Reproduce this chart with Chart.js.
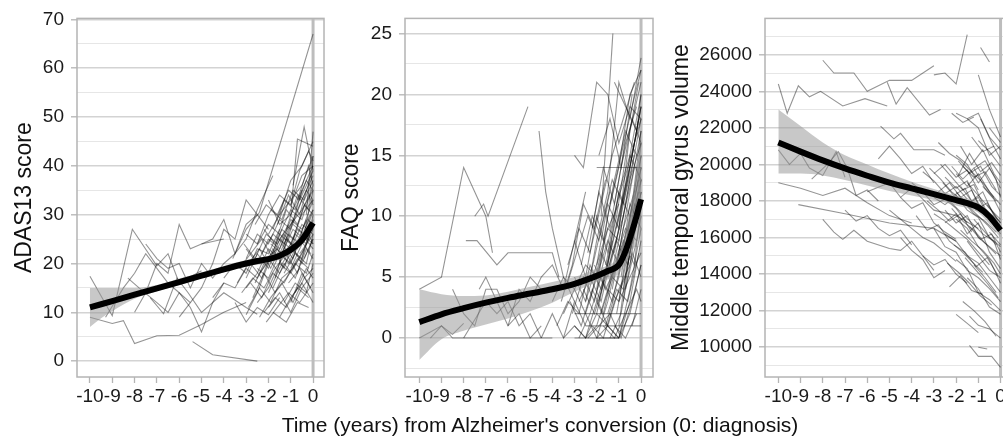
<!DOCTYPE html>
<html><head><meta charset="utf-8">
<script src="https://cdn.jsdelivr.net/npm/chart.js@4.4.1/dist/chart.umd.min.js"></script>
<style>
html,body{margin:0;padding:0;background:#fff;overflow:hidden;width:1003px;height:438px;position:relative;}
canvas{position:absolute;top:0;}
#xtitle{position:absolute;left:240px;width:600px;top:413px;text-align:center;font-family:'Liberation Sans',Arial,sans-serif;font-size:21px;line-height:24px;color:#111;white-space:nowrap;}
</style></head><body>
<canvas id="c1" width="330" height="420" style="left:0px"></canvas>
<canvas id="c2" width="330" height="420" style="left:330px"></canvas>
<canvas id="c3" width="360" height="420" style="left:660px"></canvas>
<div id="xtitle">Time (years) from Alzheimer's conversion (0: diagnosis)</div>
<script>
// ---------- shared ----------
const timeTicks = [-10,-9,-8,-7,-6,-5,-4,-3,-2,-1,0];

// ---------- ADAS13 ----------
const adasMajorTicks = [0,10,20,30,40,50,60,70];
const adasMinorTicks = [5,15,25,35,45,55,65];
const adasMeanT = [-10,-9,-8,-7,-6,-5,-4,-3,-2.5,-2,-1.5,-1,-0.5,0];
const adasMeanY = [11.0,12.3,13.6,14.9,16.2,17.5,18.8,20.0,20.5,20.9,21.6,22.8,24.8,28.3];
const adasBandT = [-10,-9.5,-9,-8.5,-8,-7,-6,-5,-4,-3,-2,-1,0];
const adasBandLow = [7.0,8.8,10.2,11.6,12.8,14.3,15.6,16.9,18.2,19.4,20.2,21.9,27.3];
const adasBandHigh = [15.0,15.0,15.0,15.0,15.0,15.6,16.9,18.2,19.5,20.7,21.6,23.6,29.3];
const adasSubjects = [
 [[-10,17.4],[-9,9.3],[-8.1,27],[-7,19.5],[-6.5,22],[-6,16],[-5,18.5]],
 [[-10,9],[-9,7.7],[-8.5,8.3],[-8,3.6],[-7,5.2],[-6,5.3],[-5,7.5],[-4,10],[-3,12]],
 [[-5.4,4],[-4.5,1.3],[-2.5,0]],
 [[-9.3,9],[-8.5,15],[-8,18],[-7.5,22],[-7,19],[-6.5,16],[-6,14],[-5.5,12]],
 [[-8,10],[-7.5,14],[-7,20],[-6.5,18],[-6,28],[-5.5,23],[-5,24],[-4.5,24.5],[-4,25]],
 [[-8.3,17],[-7.8,15],[-7,12],[-6.5,10],[-6,14],[-5.5,11],[-5,6],[-4.5,12],[-4,16]],
 [[-7.5,24],[-7,21],[-6.5,19],[-6,20],[-5.5,15],[-5,20],[-4.5,17],[-4,20],[-3.5,22]],
 [[-7.3,13],[-6.7,9.7],[-6.1,17],[-5.6,14],[-5,10],[-4,14],[-3,11],[-2.5,9.6]],
 [[-6,9],[-5.5,12],[-5,15],[-4.5,20],[-4,27],[-3.5,25],[-3,33],[-2.5,30],[-2,27]],
 [[-5,24],[-4.5,25],[-4,29],[-3.5,22],[-3,28],[-2.5,30]],
 [[-3.6,21],[-3,27],[-2.4,30.5],[0,67]],
 [[-3.5,22],[-3,25],[-2.5,31],[-1.8,38]],
 [[-3,9.5],[-2.5,14],[-2,20],[-1.5,26],[-1,24],[-0.5,30],[0,33]],
 [[-3,17],[-2.5,22],[-2,19],[-1.5,25],[-1,28],[-0.5,31],[0,35]],
 [[-2.5,12],[-2,15],[-1.5,20],[-1,18],[-0.5,22],[0,27]],
 [[-2,26],[-1.5,30],[-1,33],[-0.5,36],[0,42]],
 [[-1.5,20],[-1,27],[-0.5,35],[0,40]],
 [[-1,30],[-0.7,45.5],[0,44]],
 [[-0.9,36],[-0.4,48],[0,39]],
 [[-0.3,30],[0,47]],
 [[-3,15],[-2.5,18],[-2,23],[-1.5,21],[-1,24],[-0.5,20],[0,25]],
 [[-2.8,20],[-2.3,17],[-1.8,23],[-1.3,19],[-0.8,26],[-0.3,24],[0,29]],
 [[-2,11],[-1.5,14],[-1,10],[-0.5,15],[0,18]],
 [[-1.5,9],[-1,13],[-0.5,16],[0,12]],
 [[-2.2,27],[-1.7,24],[-1.2,31],[-0.7,28],[-0.2,34],[0,32]],
 [[-1.8,15],[-1.3,20],[-0.8,17],[-0.3,23],[0,21]],
 [[-2.5,24],[-2,28],[-1.5,26],[-1,31],[-0.5,29],[0,36]],
 [[-1.2,22],[-0.7,27],[-0.2,25],[0,30]],
 [[-3.2,14],[-2.7,17],[-2.2,15],[-1.7,19],[-1.2,22],[-0.7,18],[-0.2,26],[0,24]],
 [[-1,19],[-0.5,24],[0,28]],
 [[-2,21],[-1.5,18],[-1,22],[-0.5,26],[0,23]],
 [[-0.8,14],[-0.3,19],[0,17]],
 [[-2.7,13],[-2.2,18],[-1.7,14],[-1.2,17],[-0.7,21],[-0.2,19]],
 [[-1.6,28],[-1.1,34],[-0.6,30],[-0.1,38]],
 [[-2.4,18],[-1.9,21],[-1.4,27],[-0.9,25],[-0.4,32],[0,30]],
 [[-3,26],[-2.5,24],[-2,30],[-1.5,34],[-1,32],[-0.5,38],[0,40]],
 [[-1.3,12],[-0.8,16],[-0.3,14],[0,20]],
 [[-2.1,8],[-1.6,11],[-1.1,14],[-0.6,12],[0,16]],
 [[-0.6,22],[0,26]],
 [[-1.9,31],[-1.4,29],[-0.9,35],[-0.4,33],[0,37]],
 [[-2.6,16],[-2.1,21],[-1.6,23],[-1.1,20],[-0.6,25],[-0.1,22]],
 [[-1.4,24],[-0.9,21],[-0.4,28],[0,33]],
 [[-3.3,19],[-2.8,22],[-2.3,25],[-1.8,21],[-1.3,26],[-0.8,23],[-0.3,29]],
 [[-0.5,27],[0,31]],
 [[-1.1,16],[-0.6,19],[-0.1,15]],
 [[-3.5,12],[-3,8],[-2.5,11],[-2,9.5],[-1.5,13]],
 [[-1.8,10],[-1.2,8],[-0.7,12],[-0.2,11]],
 [[-2.3,22],[-1.8,26],[-1.3,24],[-0.8,30],[-0.3,35],[0,33]],
 [[-1.7,17],[-1.2,25],[-0.7,23],[-0.2,29],[0,27]],
 [[-0.9,28],[-0.4,26],[0,35]],
 [[-3,21],[-2.5,26],[-2,24],[-1.5,29],[-1,27],[-0.5,33],[0,38]],
 [[-2.5,19],[-2,17],[-1.5,22],[-1,20],[-0.5,26],[0,24]],
 [[-2,14],[-1.5,19],[-1,23],[-0.5,21],[0,28]],
 [[-1.5,30],[-1,37],[-0.5,40],[0,45]],
 [[-1,32],[-0.6,39],[-0.2,43],[0,41]],
 [[-3,23],[-2.5,20],[-2,25],[-1.5,23],[-1,29],[-0.5,27]],
 [[-2.8,16],[-2.3,13],[-1.8,18],[-1.3,16],[-0.8,20],[-0.3,18],[0,22]],
 [[-2.2,10],[-1.7,13],[-1.2,11],[-0.7,15],[-0.2,13]],
 [[-1.6,21],[-1.1,26],[-0.6,24],[-0.1,30]],
 [[-2.6,28],[-2.1,32],[-1.6,30],[-1.1,35],[-0.6,33],[0,39]],
 [[-1.9,24],[-1.4,22],[-0.9,27],[-0.4,25],[0,31]],
 [[-3.4,16],[-2.9,20],[-2.4,23],[-1.9,19],[-1.4,24],[-0.9,29]],
 [[-1.3,18],[-0.8,22],[-0.3,20],[0,26]],
 [[-2.4,9],[-1.9,13],[-1.4,16],[-0.9,12],[-0.4,17],[0,19]],
 [[-0.7,33],[-0.2,40],[0,36]],
 [[-1.8,27],[-1.3,33],[-0.8,31],[-0.3,37],[0,35]],
 [[-3.1,24],[-2.6,21],[-2.1,26],[-1.6,24],[-1.1,28]],
 [[-2.9,11],[-2.4,15],[-1.9,12],[-1.4,17],[-0.9,19],[-0.4,23]],
 [[-1.5,25],[-1,23],[-0.5,28],[0,26]],
 [[-2,33],[-1.5,28],[-1,30],[-0.5,35]],
 [[-4,17],[-3.5,20],[-3,18],[-2.5,23],[-2,22],[-1.5,27]],
 [[-4.5,13],[-4,16],[-3.5,15],[-3,19],[-2.5,17],[-2,21]],
 [[-1.2,27],[-0.7,34],[-0.2,31],[0,42]],
 [[-0.4,21],[0,25]],
 [[-1,12],[-0.5,18],[0,14]]
];

// ---------- FAQ ----------
const faqMajorTicks = [0,5,10,15,20,25];
const faqMinorTicks = [-2.5,2.5,7.5,12.5,17.5,22.5];
const faqMeanT = [-10,-9,-8,-7,-6,-5,-4,-3,-2,-1.5,-1,-0.75,-0.5,-0.25,0];
const faqMeanY = [1.3,1.95,2.45,2.9,3.3,3.65,4.0,4.45,5.1,5.5,6.0,6.9,8.2,9.7,11.4];
const faqBandT = [-10,-9,-8,-7,-6,-5,-4,-3,-2,-1,-0.5,0];
const faqBandLow = [-1.8,-0.1,0.6,1.1,1.6,2.2,2.9,3.8,4.6,5.3,6.8,8.5];
const faqBandHigh = [4.0,3.6,3.45,3.5,3.8,4.2,4.6,5.0,5.7,6.8,10.5,16.0];
const faqSubjects = [
 [[-10,4],[-9,5],[-8,14],[-7,10],[-6.7,7]],
 [[-7.5,10],[-7.1,11],[-6.9,10],[-5.1,19]],
 [[-7.9,8],[-7.4,8],[-6.5,6],[-6,7],[-4,7],[-3.7,5]],
 [[-4.6,17],[-4.3,12],[-4,9],[-3.5,5],[-3,3]],
 [[-9.5,0],[-9,1],[-8.5,0],[-8,0],[-7,0],[-6,0],[-5,0],[-4,0]],
 [[-10,0],[-9.5,0.5],[-9,1],[-8.5,0.3],[-8,1.2]],
 [[-8.5,4],[-8,2],[-7.5,1],[-7,4],[-6.5,4],[-6,2],[-5.5,3],[-5,5],[-4.5,4]],
 [[-7.3,4],[-7,5],[-6.5,3],[-6,1],[-5.5,2],[-5,0],[-4.5,1]],
 [[-8,0],[-7.5,1.5],[-7,3],[-6.5,2],[-6,3],[-5.5,1],[-5,2],[-4.5,0]],
 [[-6,1],[-5.5,4],[-5,3],[-4.5,5],[-4,6],[-3.5,4],[-3,8],[-2.5,12]],
 [[-3.5,0],[-3,1],[-2.5,0],[-2,3],[-1.5,1],[-1,0],[-0.5,2],[0,6]],
 [[-3,15],[-2.6,14],[-2,21],[-1.5,20],[-1,16],[-0.5,19],[0,18]],
 [[-2.5,3],[-2,8],[-1.5,12],[-1,21],[-0.5,18],[0,23]],
 [[-1.8,10],[-1.27,25]],
 [[-3,8],[-2.5,5],[-2,10],[-1.5,7],[-1,12],[-0.5,15],[0,20]],
 [[-2,0],[-1.5,3],[-1,7],[-0.5,12],[0,17]],
 [[-1,1],[-0.5,8],[0,15]],
 [[-1.5,2],[-1,5],[-0.5,11],[0,9]],
 [[-2.5,0],[-2,2],[-1.5,1],[-1,4],[-0.5,6],[0,12]],
 [[-3,5],[-2.5,3],[-2,6],[-1.5,9],[-1,8],[-0.5,13],[0,16]],
 [[-1.2,21],[-0.7,19],[-0.2,17],[0,19]],
 [[-2,4],[-1.5,10],[-1,14],[-0.5,20],[0,22]],
 [[-3.5,2],[-3,4],[-2.5,6],[-2,5],[-1.5,9],[-1,11]],
 [[-0.8,3],[-0.3,10],[0,14]],
 [[-1,0],[-0.5,4],[0,9]],
 [[-2.2,1],[-1.7,0],[-1.2,3],[-0.7,5],[-0.2,10],[0,13]],
 [[-2.8,0],[-2.3,2],[-1.8,5],[-1.3,3],[-0.8,7],[-0.3,11],[0,10]],
 [[-1.6,6],[-1.1,10],[-0.6,16],[-0.1,21]],
 [[-2.4,7],[-1.9,12],[-1.4,9],[-0.9,14],[-0.4,18],[0,16]],
 [[-3.2,3],[-2.7,1],[-2.2,4],[-1.7,2],[-1.2,6],[-0.7,9],[-0.2,8]],
 [[-1.4,0],[-0.9,2],[-0.4,7],[0,5]],
 [[-2,0],[-1.5,0],[-1,0],[-0.5,3],[0,8]],
 [[-0.6,6],[0,12]],
 [[-1.9,3],[-1.4,7],[-0.9,11],[-0.4,15],[0,19]],
 [[-2.6,4],[-2.1,2],[-1.6,5],[-1.1,8],[-0.6,6],[-0.1,11]],
 [[-3,1],[-2.5,0],[-2,1],[-1.5,4],[-1,3],[-0.5,5],[0,7]],
 [[-1.1,9],[-0.6,13],[-0.1,18]],
 [[-2.3,5],[-1.8,9],[-1.3,13],[-0.8,11],[-0.3,15]],
 [[-1.7,1],[-1.2,0],[-0.7,2],[-0.2,4],[0,3]],
 [[-3.3,6],[-2.8,9],[-2.3,7],[-1.8,11],[-1.3,15],[-0.8,18],[-0.3,21]],
 [[-0.4,1],[0,4]],
 [[-2.1,6],[-1.6,4],[-1.1,6],[-0.6,9],[-0.1,13]],
 [[-1.3,4],[-0.8,9],[-0.3,12],[0,16]],
 [[-3.8,1],[-3.3,3],[-2.8,2],[-2.3,6],[-1.8,4],[-1.3,8]],
 [[-4,3],[-3.5,5],[-3,4],[-2.5,2],[-2,0],[-1.5,1],[-1,0]],
 [[-4.5,0],[-4,2],[-3.5,0],[-3,3],[-2.5,1]],
 [[-3.6,3],[-3.1,6],[-2.6,11],[-2.1,9],[-1.6,13]],
 [[-3,2],[-0.5,2],[0,2]],
 [[-2.5,1],[-1,1],[-0.5,1],[0,1]],
 [[-2,14],[-0.5,14],[0,14]],
 [[-3,0],[-2,0],[-1,0]],
 [[-1.5,5],[-1,9],[-0.5,17],[0,21]],
 [[-2,2],[-1.5,6],[-1,12],[-0.5,10],[0,15]],
 [[-2,3],[-1.5,6],[-1,10],[-0.5,14],[0,19]],
 [[-1.5,4],[-1,8],[-0.5,13],[0,18]],
 [[-2.5,2],[-2,5],[-1.5,8],[-1,6],[-0.5,10],[0,14]],
 [[-1,3],[-0.5,9],[0,13]],
 [[-1.2,7],[-0.7,12],[-0.2,17],[0,20]],
 [[-2.8,3],[-2.3,5],[-1.8,3],[-1.3,7],[-0.8,10],[-0.3,14]],
 [[-1.8,2],[-1.3,5],[-0.8,4],[-0.3,9],[0,11]],
 [[-2.2,9],[-1.7,14],[-1.2,11],[-0.7,16],[-0.2,19]],
 [[-0.9,5],[-0.4,11],[0,17]],
 [[-1.6,1],[-1.1,4],[-0.6,3],[-0.1,7]],
 [[-2.4,0],[-1.9,1],[-1.4,2],[-0.9,0],[-0.4,3],[0,6]],
 [[-3.1,2],[-2.6,5],[-2.1,3],[-1.6,7],[-1.1,11],[-0.6,14],[0,18]],
 [[-1.4,11],[-0.9,15],[-0.4,19],[0,22]],
 [[-2,6],[-1.5,11],[-1,9],[-0.5,15],[0,13]],
 [[-0.7,4],[-0.2,8],[0,10]],
 [[-1.2,1],[-0.7,0],[-0.2,2]],
 [[-2.7,6],[-2.2,10],[-1.7,8],[-1.2,13],[-0.7,17],[-0.2,15]],
 [[-3.4,4],[-2.9,7],[-2.4,10],[-1.9,8],[-1.4,12]],
 [[-1.9,15],[-1.4,18],[-0.9,14],[-0.4,20]],
 [[-2.3,3],[-1.8,7],[-1.3,5],[-0.8,8],[-0.3,6],[0,11]],
 [[-0.5,7],[0,11]],
 [[-1.1,2],[-0.6,7],[-0.1,12]]
];

// ---------- Middle temporal gyrus ----------
const mtgMajorTicks = [10000,12000,14000,16000,18000,20000,22000,24000,26000];
const mtgMinorTicks = [9000,11000,13000,15000,17000,19000,21000,23000,25000,27000];
const mtgMeanT = [-10,-9,-8,-7,-6,-5,-4,-3,-2,-1.5,-1,-0.5,0];
const mtgMeanY = [21200,20700,20220,19780,19380,19000,18690,18380,18050,17880,17650,17150,16400];
const mtgBandT = [-10,-9,-8,-7,-6,-5,-4,-3,-2,-1,0];
const mtgBandLow = [19500,19500,19400,19150,18850,18550,18300,18050,17750,17350,16000];
const mtgBandHigh = [23000,22100,21200,20500,20000,19500,19050,18650,18300,17900,16800];
const mtgSubjects = [
 [[-10,24400],[-9.6,22800],[-9.1,24300],[-8.6,23700],[-8.1,24000],[-7.1,23200],[-6.1,23600],[-5.1,23200]],
 [[-8,25700],[-7.5,25000],[-6.6,25000],[-6,24000],[-5,24600],[-4,24600],[-3,25400]],
 [[-5.1,24500],[-4.7,23300],[-4.2,24200],[-3.2,22700],[-2.7,23000]],
 [[-3,24900],[-2.5,25000],[-2,24400],[-1.5,27100]],
 [[-0.9,26400],[-0.5,25600]],
 [[-10,20800],[-9.5,20000],[-9,20600],[-8.6,19800],[-8,19400],[-7.4,20700],[-7,19300]],
 [[-10,19000],[-9,18700],[-8,18300],[-7,18700],[-6,17900],[-5,17200],[-4,16800]],
 [[-9.1,17800],[-7,17300],[-5,16800],[-3,16500],[-2,15800]],
 [[-8,17000],[-7.5,16300],[-7.1,15900],[-6.6,16400],[-6,15800],[-5,15400],[-4.5,15300],[-4,15800],[-3,14200]],
 [[-8.5,19200],[-7.8,20000],[-7.3,20700],[-6.9,19800],[-6.5,18300],[-6,18600],[-5.5,18000]],
 [[-5.4,22100],[-4.8,21400],[-4.5,21700],[-3.9,20800],[-3,20800],[-2.5,20500]],
 [[-5.5,20300],[-5,21000],[-4.5,20300],[-4,19500],[-3.5,19900],[-3,19000]],
 [[-6,18500],[-5,19000],[-4.5,18200],[-4,18700],[-3,17500],[-2,17200],[-1,16500]],
 [[-4.5,16000],[-4,15300],[-3.5,14800],[-3,13800],[-2.5,14200]],
 [[-7,17500],[-6.5,16900],[-6,17200],[-5.5,16500],[-5,16100],[-4.5,16400],[-4,15600]],
 [[-2,19500],[-1.5,18800],[-1,19500],[-0.5,18500],[0,17800]],
 [[-2,20500],[-1.5,20000],[-1,19000],[-0.5,19800],[0,18700]],
 [[-1.8,21000],[-1.3,20000],[-0.8,20800],[-0.3,19500],[0,19000]],
 [[-1.5,22500],[-1,22000],[-0.5,20500],[0,21000]],
 [[-2,22800],[-1.5,22500],[-1,22800],[-0.5,21500],[0,20800]],
 [[-1,24900],[-0.5,23000],[0,21500]],
 [[-2.5,17500],[-2,16800],[-1.5,17200],[-1,16000],[-0.5,15500],[0,15000]],
 [[-3,18200],[-2.5,17800],[-2,18300],[-1.5,17500],[-1,17100],[-0.5,16000],[0,15500]],
 [[-2,17000],[-1.5,16500],[-1,15500],[-0.5,14800],[0,13500]],
 [[-2.5,16200],[-2,15800],[-1.5,15000],[-1,14600],[-0.5,13800],[0,13000]],
 [[-3,16500],[-2.5,15500],[-2,15200],[-1.5,14200],[-1,13800],[-0.5,13200],[0,12500]],
 [[-1.5,15800],[-1,15000],[-0.5,14200],[0,13800]],
 [[-2,14800],[-1.5,14300],[-1,13000],[-0.5,12600],[0,12000]],
 [[-1.5,13800],[-1,13200],[-0.5,12200],[0,11800]],
 [[-1.4,11700],[-1,11200],[-0.5,11000],[0,10500]],
 [[-1.4,10100],[-1,9500],[-0.4,9500],[0,8900]],
 [[-1,10000],[-0.6,9900]],
 [[-1.2,19800],[-0.7,20200],[-0.2,19200],[0,18200]],
 [[-2.2,19900],[-1.7,19200],[-1.2,19800],[-0.7,18700],[-0.2,18000]],
 [[-1.8,18800],[-1.3,18000],[-0.8,18500],[-0.3,17200],[0,16800]],
 [[-2.3,18000],[-1.8,17400],[-1.3,16800],[-0.8,16200],[-0.3,15800],[0,14800]],
 [[-1.6,17900],[-1.1,17300],[-0.6,16700],[-0.1,16000]],
 [[-2.7,20000],[-2.2,19300],[-1.7,18600],[-1.2,18900],[-0.7,17600],[-0.2,17000]],
 [[-3.2,19800],[-2.7,19200],[-2.2,18500],[-1.7,18000],[-1.2,17300],[-0.7,16900],[-0.2,16300]],
 [[-2.8,21200],[-2.3,20600],[-1.8,20200],[-1.3,19600],[-0.8,19000],[-0.3,18200]],
 [[-1.9,19400],[-1.4,20600],[-0.9,19600],[-0.4,20100],[0,19400]],
 [[-0.9,22500],[-0.4,21200],[0,20300]],
 [[-2.5,16800],[-2,17300],[-1.5,16200],[-1,16800],[-0.5,15200],[0,14300]],
 [[-3.5,15000],[-3,14500],[-2.5,14800],[-2,14000],[-1.5,13500]],
 [[-3.8,17200],[-3.3,16400],[-2.8,16700],[-2.3,15800],[-1.8,15300],[-1.3,14700],[-0.8,14100]],
 [[-2,11800],[-1.5,11300],[-1,10800]],
 [[-1.7,12500],[-1.2,12000],[-0.7,11400],[-0.2,10600]],
 [[-1.2,14500],[-0.7,13800],[-0.2,13000]],
 [[-2.3,13300],[-1.8,13900],[-1.3,13100],[-0.8,12900]],
 [[-0.6,17800],[0,16800]],
 [[-3,19500],[-2.5,20000],[-2,19300],[-1.5,19700],[-1,18600]],
 [[-4,19000],[-3.5,18500],[-3,17800],[-2.5,18100],[-2,17600],[-1.5,16800]],
 [[-4.5,18200],[-4,17600],[-3.5,17900],[-3,16800],[-2.5,16300],[-2,15900]],
 [[-5,17500],[-4.5,17000],[-4,16500],[-3.5,16000],[-3,15700],[-2.5,15200],[-2,14700]],
 [[-3.5,19600],[-3,19100],[-2.5,18400],[-2,18800],[-1.5,18100]],
 [[-2.2,22800],[-1.7,22300],[-1.2,22600]],
 [[-0.5,22000],[0,21200]],
 [[-2,18500],[-1.5,17800],[-1,18200],[-0.5,17000],[0,16200]],
 [[-1.5,19000],[-1,18300],[-0.5,17600],[0,17000]],
 [[-2.5,19300],[-2,18700],[-1.5,19100],[-1,17800],[-0.5,17300],[0,16500]],
 [[-1.8,16400],[-1.3,15800],[-0.8,15300],[-0.3,14600],[0,14000]],
 [[-2.2,17600],[-1.7,16900],[-1.2,16400],[-0.7,15700],[-0.2,15100]],
 [[-1.2,17000],[-0.7,16300],[-0.2,15600]],
 [[-2.6,19000],[-2.1,18300],[-1.6,18700],[-1.1,17500],[-0.6,17900],[-0.1,16900]],
 [[-1.9,20200],[-1.4,19500],[-0.9,19900],[-0.4,18800],[0,18300]],
 [[-1,21300],[-0.5,20700],[0,19900]],
 [[-2.4,14600],[-1.9,14100],[-1.4,13500],[-0.9,12800],[-0.4,12300]],
 [[-1.6,14900],[-1.1,14200],[-0.6,13500],[-0.1,12700]],
 [[-3,17300],[-2.5,16900],[-2,16400],[-1.5,15900],[-1,15200],[-0.5,14500]],
 [[-0.8,18800],[-0.3,18100],[0,17400]],
 [[-2.1,15600],[-1.6,15200],[-1.1,14400],[-0.6,14900],[-0.1,13900]],
 [[-1.3,21500],[-0.8,20700],[-0.3,21000]],
 [[-2.8,18500],[-2.3,19000],[-1.8,18200],[-1.3,18600],[-0.8,17400]],
 [[-1.7,19900],[-1.2,19300],[-0.7,19600],[-0.2,18600]],
 [[-3.3,18000],[-2.8,17500],[-2.3,16900],[-1.8,17300],[-1.3,16300]],
 [[-0.5,16300],[0,15600]],
 [[-1.4,16600],[-0.9,15900],[-0.4,16200],[0,15200]]
];

// ---------- drawing ----------
const FONT = "'Liberation Sans', Arial, sans-serif";
const toXY = arr => arr.map(p => ({x: p[0], y: p[1]}));
const zipXY = (ts, ys) => ts.map((t, i) => ({x: t, y: ys[i]}));

const framePlugin = {
  id: 'frame',
  beforeDatasetsDraw(chart) {
    const {ctx, chartArea: a, scales} = chart;
    const x0 = scales.x.getPixelForValue(0);
    ctx.save();
    ctx.strokeStyle = '#bdbdbd';
    ctx.lineWidth = 3;
    ctx.beginPath(); ctx.moveTo(x0, a.top); ctx.lineTo(x0, a.bottom); ctx.stroke();
    ctx.strokeStyle = '#b4b4b4';
    ctx.lineWidth = 1.5;
    ctx.strokeRect(a.left, a.top, a.right - a.left, a.bottom - a.top);
    ctx.restore();
  }
};

function buildChart(id, o) {
  const major = new Set(o.major);
  const yTicks = o.major.concat(o.minor).sort((a, b) => a - b);
  const datasets = [
    {data: zipXY(o.meanT, o.meanY), borderColor: '#000', borderWidth: 6, pointRadius: 0,
     cubicInterpolationMode: 'monotone', order: 0, fill: false},
    {data: zipXY(o.bandT, o.bandLow), borderColor: 'rgba(0,0,0,0)', borderWidth: 0, pointRadius: 0,
     cubicInterpolationMode: 'monotone', order: 1, fill: false},
    {data: zipXY(o.bandT, o.bandHigh), borderColor: 'rgba(0,0,0,0)', borderWidth: 0, pointRadius: 0,
     cubicInterpolationMode: 'monotone', order: 1, fill: '-1', backgroundColor: 'rgba(150,150,150,0.52)'}
  ];
  o.subjects.forEach(s => datasets.push({
    data: toXY(s), borderColor: 'rgba(0,0,0,0.42)', borderWidth: 1.1, pointRadius: 0,
    tension: 0, order: 2, fill: false
  }));
  return new Chart(document.getElementById(id), {
    type: 'line',
    data: {datasets},
    plugins: [framePlugin],
    options: {
      responsive: false, animation: false, devicePixelRatio: 1,
      layout: {padding: {top: 15, right: o.padRight, left: 0, bottom: 0}},
      plugins: {legend: {display: false}, tooltip: {enabled: false}},
      scales: {
        x: {
          type: 'linear', min: o.xMin, max: o.xMax,
          afterBuildTicks: s => { s.ticks = timeTicks.map(v => ({value: v})); },
          afterFit: s => { s.height = 43; },
          border: {display: false},
          grid: {drawOnChartArea: false, drawTicks: true, tickLength: 6, tickColor: '#b4b4b4', tickWidth: 1.3},
          ticks: {font: {family: FONT, size: 19}, color: '#1a1a1a', padding: 2, maxRotation: 0, autoSkip: false,
                  callback: v => String(v)}
        },
        y: {
          type: 'linear', min: o.yMin, max: o.yMax,
          afterBuildTicks: s => { s.ticks = yTicks.map(v => ({value: v})); },
          afterFit: s => { s.width = o.yWidth; },
          border: {display: false},
          grid: {
            color: c => major.has(c.tick.value) ? '#d3d3d3' : '#e6e6e6',
            lineWidth: c => major.has(c.tick.value) ? 1.6 : 1,
            tickColor: c => major.has(c.tick.value) ? '#b4b4b4' : 'rgba(0,0,0,0)',
            tickLength: 6, tickWidth: 1.3
          },
          ticks: {font: {family: FONT, size: 19}, color: '#1a1a1a', padding: 7, autoSkip: false,
                  callback: v => major.has(v) ? String(v) : ''},
          title: {display: true, text: o.yTitle, color: '#111', font: {family: FONT, size: 23},
                  padding: {top: o.titlePad, bottom: 0}}
        }
      }
    }
  });
}

buildChart('c1', {
  major: adasMajorTicks, minor: adasMinorTicks, meanT: adasMeanT, meanY: adasMeanY,
  bandT: adasBandT, bandLow: adasBandLow, bandHigh: adasBandHigh, subjects: adasSubjects,
  xMin: -10.58, xMax: 0.49, yMin: -3.25, yMax: 70.2, yWidth: 77, padRight: 6, titlePad: 11.2,
  yTitle: 'ADAS13 score'
});
buildChart('c2', {
  major: faqMajorTicks, minor: faqMinorTicks, meanT: faqMeanT, meanY: faqMeanY,
  bandT: faqBandT, bandLow: faqBandLow, bandHigh: faqBandHigh, subjects: faqSubjects,
  xMin: -10.645, xMax: 0.54, yMin: -3.2, yMax: 26.24, yWidth: 75, padRight: 7, titlePad: 8.2,
  yTitle: 'FAQ score'
});
buildChart('c3', {
  major: mtgMajorTicks, minor: mtgMinorTicks, meanT: mtgMeanT, meanY: mtgMeanY,
  bandT: mtgBandT, bandLow: mtgBandLow, bandHigh: mtgBandHigh, subjects: mtgSubjects,
  xMin: -10.6, xMax: 0.56, yMin: 8370, yMax: 27990, yWidth: 105, padRight: 7, titlePad: 8.2,
  yTitle: 'Middle temporal gyrus volume'
});
</script>
</body></html>
